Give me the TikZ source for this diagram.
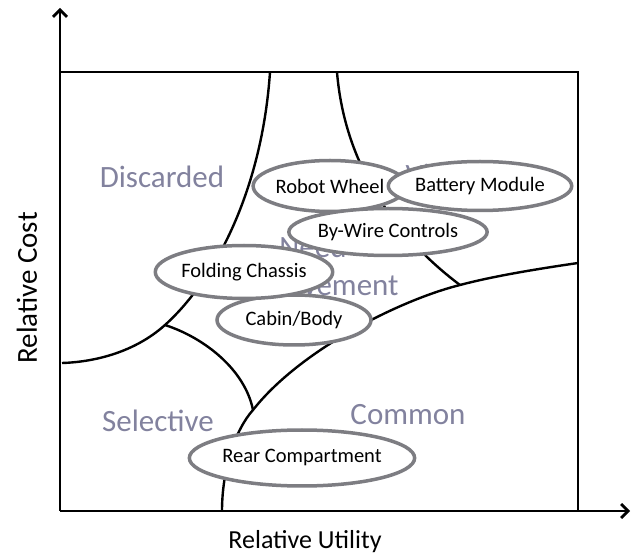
\documentclass[tikz,border=0pt]{standalone}
\usepackage{fontspec}
\setmainfont{Carlito}
\usepackage{xcolor}
\usepackage{tikz}
\usetikzlibrary{arrows.meta, shapes.geometric}

\definecolor{regiongray}{RGB}{130,130,158}
\definecolor{rimgray}{RGB}{125,125,130}

\begin{document}
\begin{tikzpicture}[
    x=1pt, y=-1pt,
    part/.style={draw=rimgray, ellipse, line width=3.5pt, fill=white, inner sep=0pt, font=\fontsize{20.5}{24}\selectfont},
    region/.style={text=regiongray, font=\fontsize{31}{38}\selectfont, align=center},
    axislabel/.style={font=\fontsize{26}{30}\selectfont},
    frame/.style={line width=2.8pt},
    split/.style={line width=2.4pt},
    axis/.style={line width=2.8pt, -{Straight Barb[length=7pt, width=14pt, line width=2.8pt]}}
]
\useasboundingbox (0,0) rectangle (633,556);

% --- AXES AND FRAME ---
\coordinate (origin) at (60,511);
\coordinate (ytip) at (60,8);
\coordinate (xtip) at (630,511);
\coordinate (tl) at (60,72);
\coordinate (tr) at (578,72);
\coordinate (br) at (578,511);

\draw[axis] (origin) -- (ytip);
\draw[axis] (origin) -- (xtip);
\draw[frame] (tl) -- (tr) -- (br);

\node[axislabel, anchor=base] (xlab) at (305,549) {Relative Utility};
\node[axislabel, font=\fontsize{29}{33}\selectfont, rotate=90] (ylab) at (27,288) {Relative Cost};

% --- REGION BOUNDARIES ---
\coordinate (topa) at (270,72);
\coordinate (topb) at (337,72);
\coordinate (lefte) at (62,363);
\coordinate (righte) at (578,263);
\coordinate (bote) at (222,511);
\coordinate (j1) at (165,325);
\coordinate (j2) at (253,410);
\coordinate (j3) at (460,285);

\draw[split] (topa) .. controls (262,190) and (215,280) .. (j1)
    .. controls (135,352) and (95,362) .. (lefte);
\draw[split] (j1) .. controls (205,338) and (245,370) .. (j2);
\draw[split] (righte) .. controls (530,270) and (490,277) .. (j3)
    .. controls (400,300) and (300,350) .. (j2)
    .. controls (235,430) and (222,470) .. (bote);
\draw[split] (topb) .. controls (345,170) and (400,240) .. (j3);

% --- REGION LABELS ---
\node[region, anchor=base] (discarded) at (162,188) {Discarded};
\node[region, anchor=base west] (vital) at (402,186) {Vital};
\node[region] (need) at (313,268) {Need\\Improvement};
\node[region, anchor=base] (selective) at (158,432) {Selective};
\node[region, anchor=base] (common) at (408,425) {Common};

% --- PARTS ---
\node[part, minimum width=150pt, minimum height=51pt] (rw) at (330,186) {Robot Wheel};
\node[part, minimum width=152pt, minimum height=49pt] (bm) at (480,186) {Battery Module};
\node[part, minimum width=146pt, minimum height=47pt] (bw) at (388,232) {By-Wire Controls};
\node[part, minimum width=154pt, minimum height=50pt] (cb) at (294,320) {Cabin/Body};
\node[part, minimum width=154pt, minimum height=53pt] (fc) at (244,272) {Folding Chassis};
\node[part, minimum width=181pt, minimum height=56pt] (rc) at (302,458) {Rear Compartment};
\end{tikzpicture}
\end{document}
